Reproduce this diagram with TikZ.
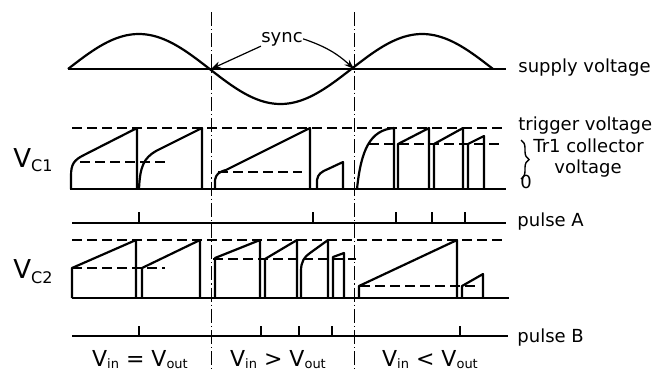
\documentclass[tikz,border=0pt]{standalone}
\usepackage{fontspec}
\setmainfont{DejaVu Sans}
\usetikzlibrary{arrows.meta,positioning,calc,decorations.pathreplacing}
\newcommand{\Vlow}[3][1.2pt]{V\raisebox{-#1}{\fontsize{#2}{7}\selectfont #3}}

\begin{document}
\begin{tikzpicture}[x=0.5pt,y=-0.5pt,
  wave/.style={line width=1.1pt,line join=round},
  baseln/.style={line width=0.75pt},
  tick/.style={line width=0.9pt},
  lvl/.style={line width=0.8pt,dash pattern=on 5pt off 2.5pt},
  divline/.style={line width=0.5pt,dash pattern=on 7pt off 1.5pt on 0.6pt off 1.5pt},
  lbl/.style={inner sep=0pt,anchor=base west,font=\fontsize{9}{10}\selectfont},
  vlbl/.style={inner sep=0pt,anchor=base,font=\fontsize{11}{12}\selectfont}]
  \useasboundingbox (0,0) rectangle (672,371);
  % dividers
  \draw[divline] (211,12)--(211,371);
  \draw[divline] (354,12)--(354,371);
  % supply voltage
  \draw[baseln] (68,69)--(506,69);
  \draw[wave,domain=68:493,samples=140,smooth] plot (\x,{69-35*sin((\x-68)/141.67*180)});
  \coordinate (z1) at (211,69);
  \coordinate (z2) at (354,69);
  \node[lbl,anchor=base] (sync) at (282,42) {sync};
  \draw[-{Stealth[length=5pt,width=3.5pt]},line width=0.6pt] (sync.south west) -- (z1);
  \draw[-{Stealth[length=5pt,width=3.5pt]},line width=0.6pt] (sync.east) to[bend left=12] (z2);
  \node[lbl] (supply) at (518,72) {supply voltage};
  % V_C1
  \draw[lvl] (72,128)--(503,128);
  \draw[lvl] (80,162)--(165,162);
  \draw[lvl] (218,172)--(302,172);
  \draw[lvl] (369,144)--(503,144);
  \draw[baseln] (70,189)--(506,189);
  \draw[wave] (71,189)--(71,176) .. controls (71,164) and (74,160) .. (84,155) -- (137,128) -- (137,189);
  \draw[wave] (139,189) .. controls (140,166) and (144,158) .. (156,151) -- (202,128) -- (202,189);
  \draw[wave] (215,189) -- (215,180) .. controls (216,174) and (219,172) .. (226,170) -- (310,128) -- (310,189);
  \draw[wave] (317,189) -- (317,180) .. controls (318,174) and (321,172) .. (328,169) -- (343,162) -- (343,189);
  \draw[wave] (357,189) .. controls (361,150) and (370,130) .. (394,128) -- (394,189);
  \draw[wave] (398,189) -- (398,144) -- (429,128) -- (429,189);
  \draw[wave] (434,189) -- (434,144) -- (463,128) -- (463,189);
  \draw[wave] (468,189) -- (468,144) -- (484,136) -- (484,189);
  \node[vlbl,anchor=base west,font=\fontsize{13}{14}\selectfont] (vc1) at (13,167) {\Vlow[2pt]{8}{C1}};
  \node[lbl] (trig) at (518,130) {trigger voltage};
  \draw[line width=0.7pt,decorate,decoration={brace,amplitude=4pt}] (521,140)--(521,179);
  \node[lbl] (coll) at (533,152) {Tr1 collector};
  \node[lbl,anchor=base] (collb) at (588,173) {voltage};
  \node[lbl] (zero) at (520,188) {0};
  % pulse A
  \draw[baseln] (72,223)--(506,223);
  \foreach \t in {139,313,396,432,465} \draw[tick] (\t,223)--(\t,212);
  \node[lbl] (pa) at (517,226) {pulse A};
  % V_C2
  \draw[lvl] (72,240)--(503,240);
  \draw[lvl] (72,268)--(165,268);
  \draw[lvl] (213,259)--(356,259);
  \draw[lvl] (360,286)--(477,286);
  \draw[baseln] (72,298)--(509,298);
  \draw[wave] (72,298) -- (72,268) -- (136,240) -- (136,298);
  \draw[wave] (142,298) -- (142,268) -- (200,240) -- (200,298);
  \draw[wave] (215,298) -- (215,258) -- (260,240) -- (260,298);
  \draw[wave] (265,298) -- (265,259) -- (297,240) -- (297,298);
  \draw[wave] (301,298) -- (301,271) .. controls (301,262) and (304,257) .. (310,253) -- (328,240) -- (328,298);
  \draw[wave] (333,298) -- (333,257) -- (344,253) -- (344,298);
  \draw[wave] (359,298) -- (359,286) -- (457,240) -- (457,298);
  \draw[wave] (462,298) -- (462,286) -- (483,274) -- (483,298);
  \node[vlbl,anchor=base west,font=\fontsize{13}{14}\selectfont] (vc2) at (13,278) {\Vlow[2.5pt]{8}{C2}};
  % pulse B
  \draw[baseln] (72,336)--(508,336);
  \foreach \t in {139,261,299,332,460} \draw[tick] (\t,336)--(\t,326);
  \node[lbl] (pb) at (517,342) {pulse B};
  % regions
  \node[vlbl] (eq) at (140,366) {\Vlow{6.5}{in} = \Vlow{6.5}{out}};
  \node[vlbl] (gt) at (278,366) {\Vlow{6.5}{in} > \Vlow{6.5}{out}};
  \node[vlbl] (lt) at (430,366) {\Vlow{6.5}{in} < \Vlow{6.5}{out}};
\end{tikzpicture}
\end{document}
